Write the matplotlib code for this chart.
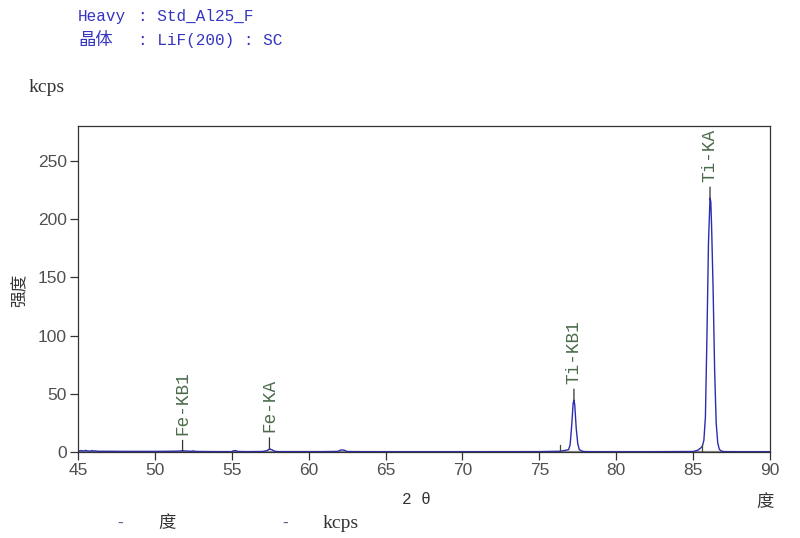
import matplotlib
matplotlib.use("Agg")
import matplotlib.pyplot as plt

# ---- data ----
two_theta = [45.0, 45.2, 45.4, 45.5, 45.6, 45.8, 45.9, 46.0, 46.1, 46.3, 47.0, 48.0, 49.0, 50.0,
             51.0, 51.6, 51.8, 52.0, 52.4, 52.5, 52.6, 53.0, 54.0, 55.0, 55.1, 55.25, 55.4, 56.0,
             57.0, 57.3, 57.45, 57.6, 57.8, 58.0, 59.0, 60.0, 61.0, 61.9, 62.1, 62.3, 62.5,
             63.0, 65.0, 70.0, 75.0, 76.3, 76.6, 76.9, 77.0, 77.1, 77.2, 77.25, 77.3, 77.4,
             77.5, 77.6, 77.8, 78.0, 79.0, 82.0, 85.0, 85.3, 85.5, 85.6, 85.7, 85.8, 85.9,
             86.0, 86.1, 86.15, 86.2, 86.3, 86.4, 86.5, 86.6, 86.7, 86.8, 87.0, 88.0, 90.0]
kcps = [0.8, 1.2, 0.8, 1.4, 0.9, 0.7, 1.3, 0.8, 1.0, 0.6, 0.6, 0.5, 0.5, 0.5,
        0.6, 0.8, 1.2, 0.8, 0.6, 1.0, 0.5, 0.4, 0.3, 0.3, 1.0, 1.2, 0.4, 0.3,
        0.4, 1.2, 2.6, 2.0, 0.6, 0.3, 0.3, 0.3, 0.3, 0.5, 1.8, 1.6, 0.4,
        0.3, 0.2, 0.2, 0.3, 0.6, 1.2, 2.0, 6.0, 22.0, 42.0, 44.5, 41.0, 20.0,
        7.0, 2.0, 0.6, 0.3, 0.2, 0.2, 0.4, 1.5, 3.5, 5.0, 10.0, 30.0, 100.0,
        180.0, 218.0, 215.0, 195.0, 140.0, 70.0, 25.0, 8.0, 2.5, 1.0, 0.3, 0.2, 0.2]

peak_names = ["Fe-KB1", "Fe-KA", "Ti-KB1", "Ti-KA"]
peak_pos = [51.8, 57.45, 77.25, 86.1]
peak_top = [0.5, 2.6, 44.5, 218.0]

minor_marker_pos = [76.35, 85.55]
minor_marker_top = [6.0, 6.0]

x_ticks = [45, 50, 55, 60, 65, 70, 75, 80, 85, 90]
y_ticks = [0, 50, 100, 150, 200, 250]

title_line1 = ("Heavy", ": Std_Al25_F")
title_line2 = ("晶体", ": LiF(200) : SC")

# ---- figure ----
W, H = 800, 538
fig = plt.figure(figsize=(8.0, 5.38), dpi=100)
ax = fig.add_axes([78 / W, 1 - 452 / H, (770 - 78) / W, (452 - 126) / H])

curve_color = "#2c2cb0"
label_color = "#4b6b4b"
title_color = "#3535c0"
tick_color = "#505050"
cjk = ["Noto Sans CJK SC", "DejaVu Sans"]
mono = ["Liberation Mono", "Noto Sans CJK SC"]
serif = ["Liberation Serif", "DejaVu Serif"]

# gray background baseline
ax.plot([45, 90], [0.3, 0.3], color="#8c8c8c", lw=1.6, zorder=1)
ax.plot(two_theta, kcps, color=curve_color, lw=1.0, zorder=2)

for xm, ym in zip(minor_marker_pos, minor_marker_top):
    ax.plot([xm, xm], [0, ym], color="#444444", lw=0.9, zorder=2)

for name, xp, yp in zip(peak_names, peak_pos, peak_top):
    ax.annotate("", xy=(xp, yp), xytext=(0, 8), textcoords="offset points",
                xycoords="data",
                arrowprops=dict(arrowstyle="-", color="#333333", lw=0.9,
                                shrinkA=0, shrinkB=0))
    ax.annotate(name, xy=(xp, yp), xytext=(0, 12), textcoords="offset points",
                rotation=90, ha="center", va="bottom", fontsize=12.8,
                family=mono, color=label_color)

ax.set_xlim(45, 90)
ax.set_ylim(0, 280)
ax.set_xticks(x_ticks)
ax.set_yticks(y_ticks)
ax.tick_params(direction="out", length=6, width=0.9, color="#333333",
               labelcolor=tick_color, labelsize=12.5, pad=2)
for lab in ax.get_xticklabels() + ax.get_yticklabels():
    lab.set_family(["Liberation Sans", "DejaVu Sans"])
for sp in ax.spines.values():
    sp.set_color("#333333")
    sp.set_linewidth(0.9)

# texts around the plot
fig.text(78 / W, 1 - 16 / H, title_line1[0], family=mono, fontsize=11.5,
         color=title_color, va="center", ha="left")
fig.text(138 / W, 1 - 16 / H, title_line1[1], family=mono, fontsize=11.5,
         color=title_color, va="center", ha="left")
fig.text(78 / W, 1 - 40 / H, title_line2[0], family=cjk, fontsize=12.5,
         color=title_color, va="center", ha="left")
fig.text(138 / W, 1 - 40 / H, title_line2[1], family=mono, fontsize=11.5,
         color=title_color, va="center", ha="left")

fig.text(29 / W, 1 - 88 / H, "kcps", family=serif,
         fontsize=14, color="#333333", va="center", ha="left")
fig.text(20 / W, 1 - 290 / H, "强度", family=cjk, fontsize=12, rotation=90,
         color="#333333", va="center", ha="center")
fig.text(416 / W, 1 - 500 / H, "2 θ", family=mono, fontsize=11.5,
         color="#333333", va="center", ha="center")
fig.text(765 / W, 1 - 502 / H, "度", family=cjk, fontsize=12.5,
         color="#333333", va="center", ha="center")

# legend-like row
fig.text(120 / W, 1 - 523 / H, "-", family=mono, fontsize=11.5,
         color="#5a5a8a", va="center", ha="center")
fig.text(167 / W, 1 - 523 / H, "度", family=cjk, fontsize=12.5,
         color="#333333", va="center", ha="center")
fig.text(285 / W, 1 - 523 / H, "-", family=mono, fontsize=11.5,
         color="#5a5a8a", va="center", ha="center")
fig.text(341 / W, 1 - 523 / H, "kcps", family=serif,
         fontsize=14, color="#333333", va="center", ha="center")

fig.savefig("out.png", dpi=100, facecolor="white")
